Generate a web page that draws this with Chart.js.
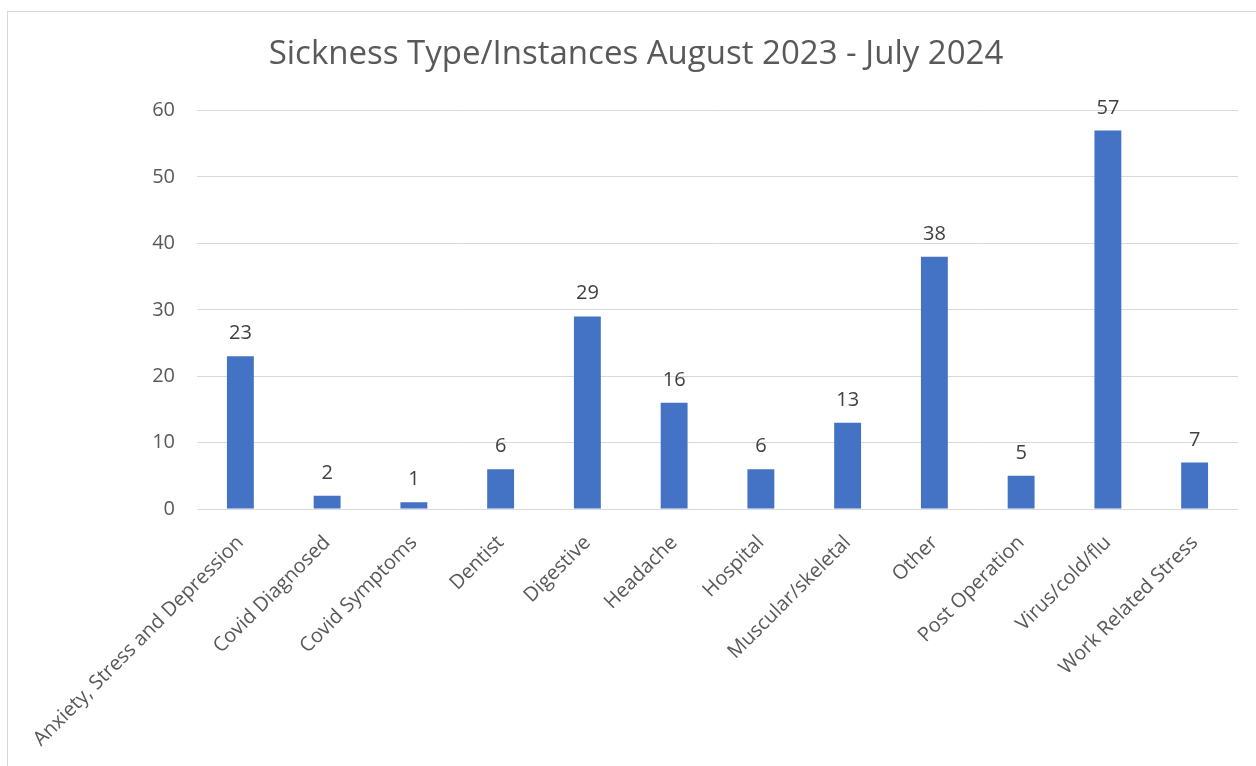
<!DOCTYPE html>
<html>
<head>
<meta charset="utf-8">
<script src="https://cdn.jsdelivr.net/npm/chart.js@4"></script>
<style>
  html, body { margin: 0; padding: 0; background: #fff; }
  #frame { position: absolute; left: 7px; top: 11px; width: 1260px; height: 770px; border: 1px solid #d9d9d9; }
  #wrap { position: absolute; left: 0; top: 0; width: 1256px; height: 766px; }
</style>
</head>
<body>
<div id="frame"></div>
<div id="wrap"><canvas id="sickChart"></canvas></div>
<script>
const categories = ['Anxiety, Stress and Depression', 'Covid Diagnosed', 'Covid Symptoms', 'Dentist',
  'Digestive', 'Headache', 'Hospital', 'Muscular/skeletal', 'Other', 'Post Operation',
  'Virus/cold/flu', 'Work Related Stress'];
const instances = [23, 2, 1, 6, 29, 16, 6, 13, 38, 5, 57, 7];
const yTicks = [0, 10, 20, 30, 40, 50, 60];

const fontFamily = '"Open Sans", "Noto Sans", sans-serif';

// Werte über den Balken schreiben
const valueLabels = {
  id: 'valueLabels',
  afterDatasetsDraw(chart) {
    const ctx = chart.ctx;
    const meta = chart.getDatasetMeta(0);
    ctx.save();
    ctx.font = '20px ' + fontFamily;
    ctx.fillStyle = '#404040';
    ctx.textAlign = 'center';
    ctx.textBaseline = 'alphabetic';
    meta.data.forEach((bar, i) => {
      ctx.fillText(String(instances[i]), bar.x, bar.y - 17);
    });
    ctx.restore();
  }
};

new Chart(document.getElementById('sickChart'), {
  type: 'bar',
  data: {
    labels: categories,
    datasets: [{
      data: instances,
      backgroundColor: '#4472c4',
      borderWidth: 0,
      barPercentage: 1,
      categoryPercentage: 0.31
    }]
  },
  options: {
    responsive: true,
    maintainAspectRatio: false,
    animation: false,
    layout: { padding: { left: 34, right: 18, top: 0, bottom: 0 } },
    plugins: {
      legend: { display: false },
      tooltip: { enabled: false },
      title: {
        display: true,
        text: 'Sickness Type/Instances August 2023 - July 2024',
        color: '#595959',
        font: { family: fontFamily, size: 33, weight: 'normal', lineHeight: 1.2 },
        padding: { top: 35, bottom: 36 }
      }
    },
    scales: {
      x: {
        grid: { display: false },
        border: { display: false },
        ticks: {
          color: '#595959',
          font: { family: fontFamily, size: 20 },
          minRotation: 45,
          maxRotation: 45,
          autoSkip: false,
          padding: 14
        },
        afterFit(scale) { scale.height = 257; }
      },
      y: {
        min: 0,
        max: 60,
        afterBuildTicks(scale) { scale.ticks = yTicks.map(v => ({ value: v })); },
        grid: { color: '#d9d9d9', drawTicks: false },
        border: { display: false },
        ticks: {
          color: '#595959',
          font: { family: fontFamily, size: 20 },
          padding: 22
        },
        afterFit(scale) { scale.width = 163; }
      }
    }
  },
  plugins: [valueLabels]
});
</script>
</body>
</html>
